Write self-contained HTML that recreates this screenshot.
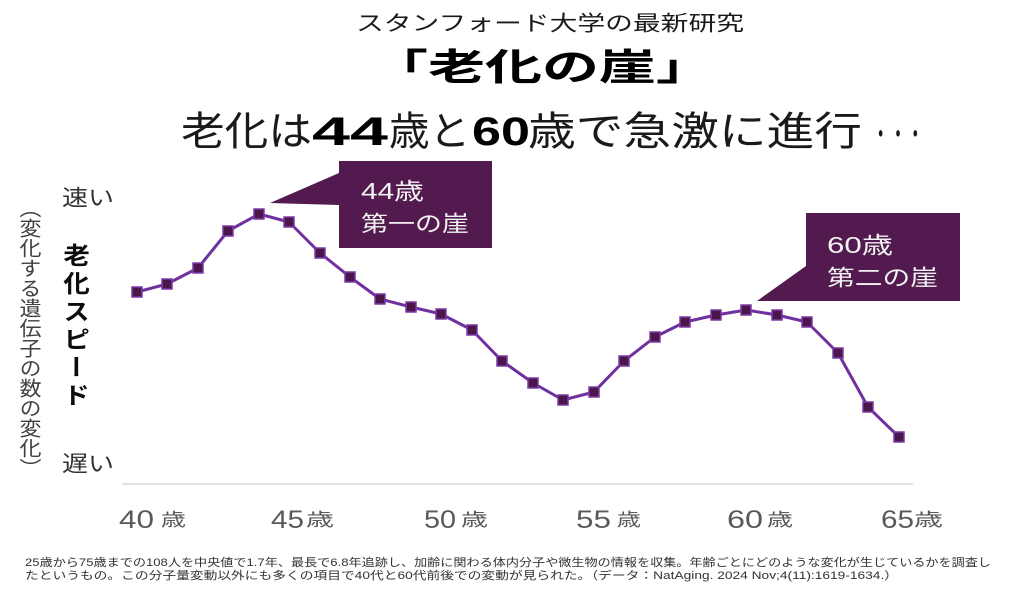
<!DOCTYPE html>
<html>
<head>
<meta charset="utf-8">
<style>
  html,body{margin:0;padding:0;background:#fff;}
  #wrap{position:relative;width:1024px;height:598px;overflow:hidden;background:#fff;}
  svg{position:absolute;left:0;top:0;}
  .jp{font-family:"Liberation Sans","Noto Sans CJK JP",sans-serif;}
  .cjk{font-family:"Noto Sans CJK JP",sans-serif;}
  .v1{position:absolute;left:63px;top:243px;writing-mode:vertical-rl;font-family:"Noto Sans CJK JP",sans-serif;font-size:24px;font-weight:bold;letter-spacing:4px;line-height:26px;color:#0d0d0d;transform:scaleX(1.1);transform-origin:center;}
  .v2{position:absolute;left:19px;top:198px;writing-mode:vertical-rl;font-family:"Noto Sans CJK JP",sans-serif;font-size:20px;line-height:22px;color:#404040;transform:scaleX(1.1);transform-origin:center;}
</style>
</head>
<body>
<div id="wrap">
<svg width="1024" height="598" viewBox="0 0 1024 598" xmlns="http://www.w3.org/2000/svg">
  <g class="jp" fill="#1a1a1a">
    <text x="356" y="30.5" font-size="21" textLength="388" lengthAdjust="spacingAndGlyphs">スタンフォード大学の最新研究</text>
    <text x="371" y="80" font-size="37" font-weight="bold" fill="#000" textLength="342" lengthAdjust="spacingAndGlyphs">「老化の崖」</text>
    <text x="181" y="145" font-size="40" textLength="131" lengthAdjust="spacingAndGlyphs">老化は</text>
    <text x="312" y="145" font-size="40" font-weight="bold" fill="#000" textLength="76" lengthAdjust="spacingAndGlyphs">44</text>
    <text x="389" y="145" font-size="40" textLength="81" lengthAdjust="spacingAndGlyphs">歳と</text>
    <text x="472" y="145" font-size="40" font-weight="bold" fill="#000" textLength="58" lengthAdjust="spacingAndGlyphs">60</text>
    <text x="528" y="145" font-size="40" textLength="334" lengthAdjust="spacingAndGlyphs">歳で急激に進行</text>
    <text class="cjk" x="872" y="145" font-size="30" textLength="52" lengthAdjust="spacingAndGlyphs">・・・</text>
  </g>

  <!-- y-axis end labels -->
  <g class="jp" fill="#333">
    <text x="62" y="205.5" font-size="22" textLength="52" lengthAdjust="spacingAndGlyphs">速い</text>
    <text x="62" y="471.5" font-size="22" textLength="52" lengthAdjust="spacingAndGlyphs">遅い</text>
  </g>

  <!-- x axis line -->
  <line x1="122" y1="484" x2="913" y2="484" stroke="#dcdcdc" stroke-width="1.5"/>

  <!-- x labels -->
  <g class="jp" fill="#595959">
    <text x="119" y="528" font-size="25" textLength="35" lengthAdjust="spacingAndGlyphs">40</text>
    <text x="161" y="526" font-size="18" textLength="25" lengthAdjust="spacingAndGlyphs">歳</text>
    <text x="271" y="528" font-size="25" textLength="33" lengthAdjust="spacingAndGlyphs">45</text>
    <text x="306" y="526" font-size="18" textLength="28" lengthAdjust="spacingAndGlyphs">歳</text>
    <text x="424" y="528" font-size="25" textLength="32" lengthAdjust="spacingAndGlyphs">50</text>
    <text x="461" y="526" font-size="18" textLength="27" lengthAdjust="spacingAndGlyphs">歳</text>
    <text x="576" y="528" font-size="25" textLength="35" lengthAdjust="spacingAndGlyphs">55</text>
    <text x="617" y="526" font-size="18" textLength="24" lengthAdjust="spacingAndGlyphs">歳</text>
    <text x="727" y="528" font-size="25" textLength="36" lengthAdjust="spacingAndGlyphs">60</text>
    <text x="767" y="526" font-size="18" textLength="26" lengthAdjust="spacingAndGlyphs">歳</text>
    <text x="881" y="528" font-size="25" textLength="33" lengthAdjust="spacingAndGlyphs">65</text>
    <text x="914" y="526" font-size="18" textLength="29" lengthAdjust="spacingAndGlyphs">歳</text>
  </g>

  <!-- series -->
  <polyline fill="none" stroke="#7030a0" stroke-width="3" stroke-linejoin="round"
    points="137,292 167,284 198,268 228,231 259,214 289,222 320,253 350,277 380,299 411,307 441,314 472,330 502,361 533,383 563,400 594,392 624,361 655,337 685,322 716,315 746,310 777,315 807,322 838,353 868,407 899,437"/>
  <g fill="#4b1649" stroke="#7b3aa8" stroke-width="1.5">
    <rect x="132" y="287" width="10" height="10"/>
    <rect x="162" y="279" width="10" height="10"/>
    <rect x="193" y="263" width="10" height="10"/>
    <rect x="223" y="226" width="10" height="10"/>
    <rect x="254" y="209" width="10" height="10"/>
    <rect x="284" y="217" width="10" height="10"/>
    <rect x="315" y="248" width="10" height="10"/>
    <rect x="345" y="272" width="10" height="10"/>
    <rect x="375" y="294" width="10" height="10"/>
    <rect x="406" y="302" width="10" height="10"/>
    <rect x="436" y="309" width="10" height="10"/>
    <rect x="467" y="325" width="10" height="10"/>
    <rect x="497" y="356" width="10" height="10"/>
    <rect x="528" y="378" width="10" height="10"/>
    <rect x="558" y="395" width="10" height="10"/>
    <rect x="589" y="387" width="10" height="10"/>
    <rect x="619" y="356" width="10" height="10"/>
    <rect x="650" y="332" width="10" height="10"/>
    <rect x="680" y="317" width="10" height="10"/>
    <rect x="711" y="310" width="10" height="10"/>
    <rect x="741" y="305" width="10" height="10"/>
    <rect x="772" y="310" width="10" height="10"/>
    <rect x="802" y="317" width="10" height="10"/>
    <rect x="833" y="348" width="10" height="10"/>
    <rect x="863" y="402" width="10" height="10"/>
    <rect x="894" y="432" width="10" height="10"/>
  </g>

  <!-- callouts -->
  <polygon fill="#521a4e" points="339,161 492,161 492,248 339,248 339,205 270,203 339,173"/>
  <polygon fill="#521a4e" points="806,213 960,213 960,301 757,301 806,266"/>
  <g class="jp" fill="#f2f2f2">
    <text x="361" y="199" font-size="23" textLength="63" lengthAdjust="spacingAndGlyphs">44歳</text>
    <text x="361" y="231.5" font-size="22" textLength="108" lengthAdjust="spacingAndGlyphs">第一の崖</text>
    <text x="827" y="253" font-size="23" textLength="66" lengthAdjust="spacingAndGlyphs">60歳</text>
    <text x="827" y="285.5" font-size="22" textLength="111" lengthAdjust="spacingAndGlyphs">第二の崖</text>
  </g>

  <!-- footnote -->
  <g class="jp" fill="#333">
    <text x="25" y="566" font-size="11" textLength="966" lengthAdjust="spacingAndGlyphs">25歳から75歳までの108人を中央値で1.7年、最長で6.8年追跡し、加齢に関わる体内分子や微生物の情報を収集。年齢ごとにどのような変化が生じているかを調査し</text>
    <text x="25" y="579" font-size="11" textLength="873" lengthAdjust="spacingAndGlyphs">たというもの。この分子量変動以外にも多くの項目で40代と60代前後での変動が見られた。（データ：NatAging. 2024 Nov;4(11):1619-1634.）</text>
  </g>
</svg>
<div class="v1">老化スピード</div>
<div class="v2">︵変化する遺伝子の数の変化︶</div>
</div>
</body>
</html>
